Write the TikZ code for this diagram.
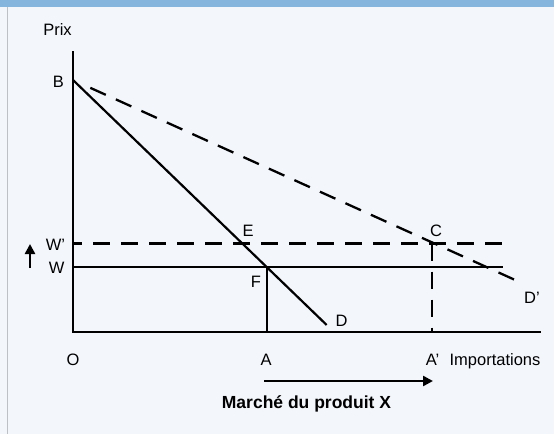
\documentclass[tikz,border=0pt]{standalone}
\usepackage{fontspec}
\setmainfont{Liberation Sans}
\usetikzlibrary{arrows.meta}
\definecolor{panelbg}{RGB}{243,247,252}
\definecolor{barblue}{RGB}{133,180,221}
\definecolor{edgeblue}{RGB}{165,198,230}
\tikzset{
  lbl/.style={anchor=base,inner sep=0pt,font=\fontsize{16.5}{18}\selectfont,text=black},
  ttl/.style={anchor=base,inner sep=0pt,font=\fontsize{17.5}{19}\selectfont\bfseries,text=black},
  axisline/.style={line width=2.4pt,line cap=rect},
  curve/.style={line width=2.2pt},
  dashline/.style={line width=2.3pt,dash pattern=on 17pt off 11pt},
  arr/.style={line width=2.4pt,-{Triangle[length=10pt,width=10pt]}}
}
\begin{document}
\begin{tikzpicture}[x=1pt,y=-1pt]
\useasboundingbox (0,0) rectangle (554,434);
\fill[panelbg] (0,0) rectangle (554,434);
\fill[barblue] (0,0) rectangle (554,7);
\draw[edgeblue,line width=1.5pt] (7.5,7) -- (7.5,434);
% coordinates
\coordinate (O) at (73,332);
\coordinate (Ytop) at (73,52);
\coordinate (Xend) at (540,332);
\coordinate (B) at (73,80);
\coordinate (Dend) at (326.7,325);
\coordinate (Dpend) at (524,284);
\coordinate (Wl) at (73,267.3);
\coordinate (Wr) at (503,267.3);
\coordinate (Wpl) at (73,243.5);
\coordinate (Wpr) at (503,243.5);
\coordinate (F) at (267,267.3);
\coordinate (A) at (267,332);
\coordinate (C) at (432,243.5);
\coordinate (Ap) at (432,332);
\coordinate (UpS) at (30,268);
\coordinate (UpE) at (30,244);
\coordinate (MS) at (264,381);
\coordinate (ME) at (433,381);
% axes
\draw[axisline] (Ytop) -- (O) -- (Xend);
% lines
\draw[curve] (Wl) -- (Wr);
\draw[dashline,dash phase=8pt] (Wpl) -- (Wpr);
\draw[curve] (B) -- (Dend);
\draw[dashline,dash phase=17pt,shorten <=8pt] (B) -- (Dpend);
\draw[curve] (F) -- (A);
\draw[dashline] (C) -- (Ap);
% arrows
\draw[arr] (UpS) -- (UpE);
\draw[arr] (MS) -- (ME);
% labels
\node[lbl] (prix) at (57.5,35) {Prix};
\node[lbl] (lB) at (58.5,87) {B};
\node[lbl] (lWp) at (55.5,250.7) {W'};
\node[lbl] (lW) at (56.7,273.3) {W};
\node[lbl] (lE) at (248,236) {E};
\node[lbl] (lF) at (256,287) {F};
\node[lbl] (lD) at (341.5,326) {D};
\node[lbl] (lC) at (436,236) {C};
\node[lbl] (lDp) at (532,303) {D'};
\node[lbl] (lO) at (73,365) {O};
\node[lbl] (lA) at (266,365) {A};
\node[lbl] (lAp) at (432.5,365) {A'};
\node[lbl] (limp) at (495,365) {Importations};
\node[ttl] (title) at (306.5,408.3) {Marché du produit X};
\end{tikzpicture}
\end{document}
